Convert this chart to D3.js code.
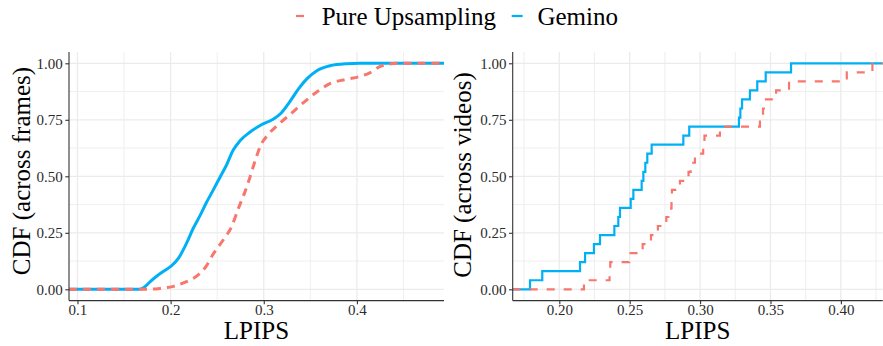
<!DOCTYPE html>
<html>
  <head>
    <meta charset="utf-8">
    <title>LPIPS CDF</title>
    <script src="https://d3js.org/d3.v7.min.js"></script>
    <style>
      body { margin: 0; background: #fff; }
      svg { font-family: "Liberation Serif", "DejaVu Serif", serif; }
      .grid line { stroke: #ebebeb; }
      .axis path, .axis line { stroke: #333; stroke-width: 1.1px; }
      .title { fill: #000; font-size: 25px; }
    </style>
  </head>
  <body>
    <div id="chart"></div>
    <script>
      const seriesNames = ["Pure Upsampling", "Gemino"];
      const seriesColors = ["#f8766d", "#00b0f6"];

      // left panel: CDF across frames
      const upsamplingFramesX = [0.174, 0.1885, 0.2028, 0.2171, 0.2279, 0.2386, 0.2457, 0.2564, 0.2654, 0.2725,
        0.2797, 0.2851, 0.291, 0.2965, 0.3047, 0.3137, 0.328, 0.3423, 0.3566, 0.3709, 0.3888, 0.4031, 0.4138,
        0.4246, 0.4353, 0.442];
      const upsamplingFramesCdf = [0, 0.004, 0.013, 0.034, 0.058, 0.105, 0.156, 0.218, 0.277, 0.355,
        0.43, 0.495, 0.572, 0.635, 0.685, 0.722, 0.773, 0.825, 0.872, 0.91, 0.929, 0.942, 0.958,
        0.985, 0.997, 1];
      const geminoFramesX = [0.167, 0.172, 0.1778, 0.185, 0.1925, 0.2005, 0.2085, 0.2171, 0.2243, 0.2314,
        0.2386, 0.2457, 0.2529, 0.26, 0.2672, 0.2744, 0.285, 0.2975, 0.31, 0.3185, 0.328, 0.3375, 0.3465,
        0.3566, 0.371, 0.3888, 0.4031];
      const geminoFramesCdf = [0, 0.01, 0.033, 0.058, 0.08, 0.102, 0.138, 0.204, 0.27, 0.325,
        0.385, 0.439, 0.495, 0.55, 0.616, 0.657, 0.695, 0.728, 0.752, 0.779, 0.83, 0.888, 0.932,
        0.966, 0.989, 0.998, 1];

      // right panel: per-video LPIPS (25 videos each)
      const upsamplingVideos = [0.2175, 0.2357, 0.2362, 0.2497, 0.2592, 0.2651, 0.27, 0.276, 0.2795, 0.2797,
        0.28, 0.2857, 0.2918, 0.2933, 0.2963, 0.3022, 0.3031, 0.3141, 0.3425, 0.3447, 0.3468, 0.354,
        0.3632, 0.4042, 0.4224];
      const geminoVideos = [0.1792, 0.1879, 0.2147, 0.2183, 0.2246, 0.2289, 0.2391, 0.2419, 0.2431, 0.2507,
        0.2526, 0.2585, 0.2597, 0.2611, 0.2625, 0.2656, 0.2881, 0.2923, 0.3276, 0.3286, 0.3298, 0.3354,
        0.3406, 0.3466, 0.3646];

      const yTicks = [0, 0.25, 0.5, 0.75, 1];
      const yMinor = [0.125, 0.375, 0.625, 0.875];

      const width = 883, height = 346;
      const svg = d3.select("#chart").append("svg")
        .attr("width", width)
        .attr("height", height);

      const y = d3.scaleLinear().domain([-0.05, 1.05]).range([300.6, 52]);

      function ecdf(values) {
        const sorted = values.slice().sort(d3.ascending);
        return sorted.map((v, i) => [v, (i + 1) / sorted.length]);
      }

      function styleAxis(a) {
        a.attr("font-family", null).attr("font-size", null);
        a.selectAll("text")
          .attr("fill", "#2b2b2b")
          .style("font-family", "'Liberation Serif', serif")
          .style("font-size", "15px");
      }

      function drawPanel(opt) {
        const x = d3.scaleLinear().domain(opt.xDomain).range([opt.left, opt.right]);
        const g = svg.append("g");

        // grid
        const grid = g.append("g").attr("class", "grid");
        grid.selectAll(".vminor").data(opt.xMinor).join("line")
          .attr("x1", d => x(d)).attr("x2", d => x(d))
          .attr("y1", y.range()[0]).attr("y2", y.range()[1])
          .attr("stroke-width", 0.8);
        grid.selectAll(".hminor").data(yMinor).join("line")
          .attr("x1", opt.left).attr("x2", opt.right)
          .attr("y1", d => y(d)).attr("y2", d => y(d))
          .attr("stroke-width", 0.8);
        grid.selectAll(".vmajor").data(opt.xTicks).join("line")
          .attr("x1", d => x(d)).attr("x2", d => x(d))
          .attr("y1", y.range()[0]).attr("y2", y.range()[1])
          .attr("stroke-width", 1.3);
        grid.selectAll(".hmajor").data(yTicks).join("line")
          .attr("x1", opt.left).attr("x2", opt.right)
          .attr("y1", d => y(d)).attr("y2", d => y(d))
          .attr("stroke-width", 1.3);

        // lines: Gemino under, Pure Upsampling dashed on top
        const line = d3.line().x(d => x(d[0])).y(d => y(d[1])).curve(opt.curve);
        [1, 0].forEach(k => {
          const pts = [[opt.xDomain[0], 0]].concat(opt.series[k], [[opt.xDomain[1], 1]]);
          g.append("path")
            .datum(pts)
            .attr("fill", "none")
            .attr("stroke", seriesColors[k])
            .attr("stroke-width", opt.lineWidth)
            .attr("stroke-dasharray", k === 0 ? opt.dash : null)
            .attr("d", line);
        });

        // axes
        g.append("g").attr("class", "axis")
          .attr("transform", `translate(0,${y.range()[0]})`)
          .call(d3.axisBottom(x).tickValues(opt.xTicks).tickFormat(opt.fmt).tickSize(3.7).tickPadding(0.5))
          .call(a => a.select(".domain").attr("d", `M${opt.left},0H${opt.right}`))
          .call(styleAxis);
        g.append("g").attr("class", "axis")
          .attr("transform", `translate(${opt.left},0)`)
          .call(d3.axisLeft(y).tickValues(yTicks).tickFormat(d3.format(".2f")).tickSize(3.7).tickPadding(2.5))
          .call(a => a.select(".domain").attr("d", `M0,${y.range()[0]}V${y.range()[1]}`))
          .call(styleAxis);

        // titles
        g.append("text").attr("class", "title")
          .attr("x", (opt.left + opt.right) / 2).attr("y", 339)
          .attr("text-anchor", "middle")
          .text("LPIPS");
        g.append("text").attr("class", "title")
          .attr("transform", `translate(${opt.yTitleX},${opt.yTitleY}) rotate(-90)`)
          .attr("text-anchor", "middle")
          .text(opt.yTitle);
      }

      drawPanel({
        left: 69, right: 444,
        xDomain: [0.0909, 0.4935],
        xTicks: [0.1, 0.2, 0.3, 0.4],
        xMinor: [0.15, 0.25, 0.35, 0.45],
        fmt: d3.format(".1f"),
        yTitle: "CDF (across frames)", yTitleX: 30, yTitleY: 171,
        series: [
          d3.zip(upsamplingFramesX, upsamplingFramesCdf),
          d3.zip(geminoFramesX, geminoFramesCdf)
        ],
        curve: d3.curveMonotoneX,
        lineWidth: 3, dash: "8,6"
      });

      drawPanel({
        left: 512.7, right: 882.7,
        xDomain: [0.1669, 0.4297],
        xTicks: [0.2, 0.25, 0.3, 0.35, 0.4],
        xMinor: [0.175, 0.225, 0.275, 0.325, 0.375, 0.425],
        fmt: d3.format(".2f"),
        yTitle: "CDF (across videos)", yTitleX: 471, yTitleY: 175,
        series: [ecdf(upsamplingVideos), ecdf(geminoVideos)],
        curve: d3.curveStepAfter,
        lineWidth: 2.2, dash: "8,9"
      });

      // legend
      const legendX = [296, 511.7];
      const legend = svg.append("g");
      seriesNames.forEach((name, i) => {
        legend.append("line")
          .attr("x1", legendX[i]).attr("x2", legendX[i] + 11)
          .attr("y1", 16).attr("y2", 16)
          .attr("stroke", seriesColors[i])
          .attr("stroke-width", 2.2)
          .attr("stroke-dasharray", i === 0 ? "8,9" : null);
        legend.append("text").attr("class", "title")
          .attr("x", legendX[i] + 25.7).attr("y", 25)
          .text(name);
      });
    </script>
  </body>
</html>
